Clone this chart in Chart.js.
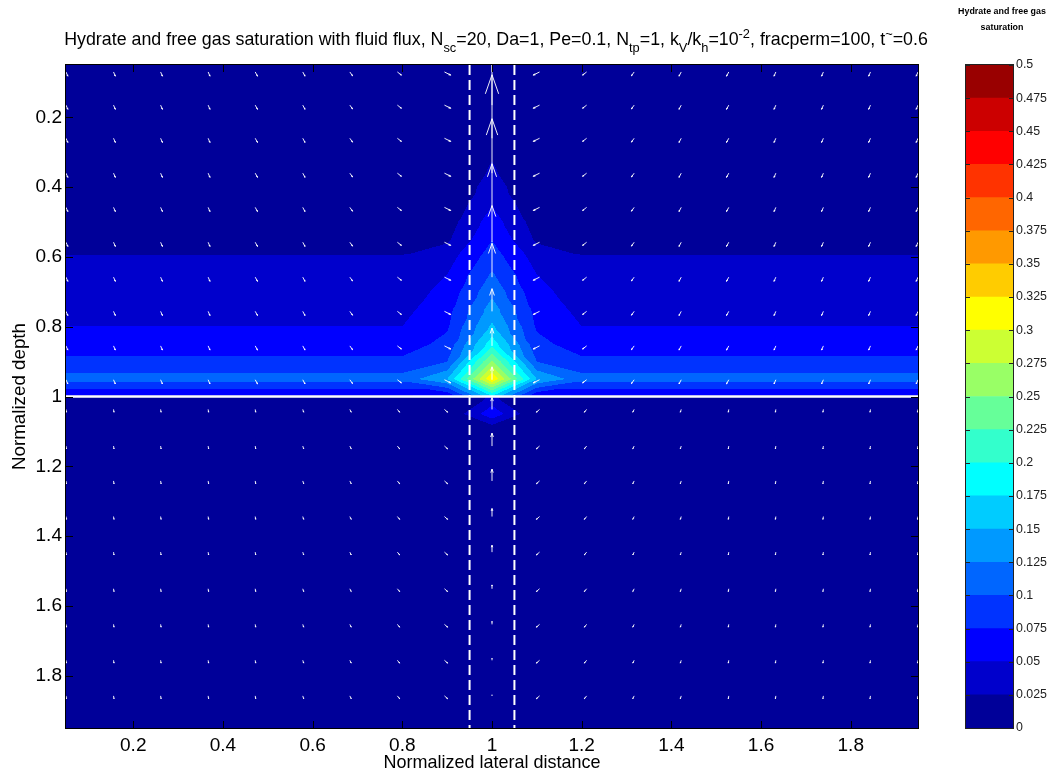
<!DOCTYPE html>
<html><head><meta charset="utf-8">
<script src="https://cdn.jsdelivr.net/npm/chart.js@4.4.1/dist/chart.umd.min.js"></script>
<style>
html,body{margin:0;padding:0;background:#fff;}
#wrap{position:relative;width:1059px;height:778px;overflow:hidden;background:#fff;}
#main{position:absolute;left:0;top:0;}
#cbar{position:absolute;left:956px;top:0;}
</style></head><body>
<div id="wrap"><canvas id="main" width="1059" height="778"></canvas><canvas id="cbar" width="103" height="778"></canvas></div>
<script>
// ------------------------- DATA -------------------------
const axisX = [0.05, 1.95];           // lateral axis limits
const axisY = [0.05, 1.95];           // depth axis limits
const xTickValues = [0.2, 0.4, 0.6, 0.8, 1.0, 1.2, 1.4, 1.6, 1.8];
const xTickLabels = ['0.2', '0.4', '0.6', '0.8', '1', '1.2', '1.4', '1.6', '1.8'];
const yTickValues = [0.2, 0.4, 0.6, 0.8, 1.0, 1.2, 1.4, 1.6, 1.8];
const yTickLabels = ['0.2', '0.4', '0.6', '0.8', '1', '1.2', '1.4', '1.6', '1.8'];
const cbLevels = [0, 0.025, 0.05, 0.075, 0.1, 0.125, 0.15, 0.175, 0.2, 0.225, 0.25, 0.275, 0.3, 0.325, 0.35, 0.375, 0.4, 0.425, 0.45, 0.475, 0.5];
const cbTickLabels = ['0', '0.025', '0.05', '0.075', '0.1', '0.125', '0.15', '0.175', '0.2', '0.225', '0.25', '0.275', '0.3', '0.325', '0.35', '0.375', '0.4', '0.425', '0.45', '0.475', '0.5'];
const fractureEdges = [0.95, 1.05];
const fractureCenter = 1.0;
const bsrDepth = 1.0;

// saturation field: grid nodes
const xNodes = [0.05, 0.8, 0.9, 1.0, 1.1, 1.2, 1.95];
const yNodes = [0.05, 0.3, 0.35, 0.4, 0.45, 0.5, 0.55, 0.6, 0.65, 0.7, 0.75, 0.8, 0.85, 0.9, 0.95, 1.0, 1.0001, 1.05, 1.1, 1.95];
// saturation profiles along depth (one value per y node)
const satFarField = [0, 0.002, 0.004, 0.006, 0.009, 0.012, 0.018, 0.026, 0.031, 0.037, 0.043, 0.0502, 0.064, 0.080, 0.111, 0.045, 0, 0, 0, 0];
const satNearFracture = [0, 0, 0, 0.001, 0.005, 0.013, 0.021, 0.039, 0.050, 0.058, 0.066, 0.072, 0.082, 0.100, 0.150, 0.050, 0, 0, 0, 0];
const satFracture = [0, 0.022, 0.028, 0.037, 0.049, 0.062, 0.074, 0.088, 0.103, 0.118, 0.137, 0.155, 0.190, 0.255, 0.324, 0.170, 0.030, 0.068, 0, 0];

// fluid flux (quiver)
const quiverX = [0.05, 0.156, 0.261, 0.367, 0.472, 0.578, 0.683, 0.789, 0.894, 1.0, 1.106, 1.211, 1.317, 1.422, 1.528, 1.633, 1.739, 1.844, 1.95];
const quiverY = [0.07, 0.165, 0.26, 0.36, 0.458, 0.558, 0.658, 0.756, 0.855, 0.952, 1.037, 1.142, 1.242, 1.344, 1.446, 1.551, 1.653, 1.756, 1.858];
const fluxFracture = [0.213, 0.199, 0.182, 0.156, 0.125, 0.105, 0.097, 0.065, 0.051, 0.037, 0.034, 0.037, 0.034, 0.023, 0.020, 0.011, 0.0085, 0.0057, 0.003];
// lateral / vertical flux by column distance from the fracture (0..9)
const fluxUpperLateral = [0, 0.014, 0.009, 0.006, 0.005, 0.005, 0.004, 0.004, 0.004, 0.004];
const fluxUpperVertical = [0, 0.009, 0.009, 0.011, 0.012, 0.012, 0.012, 0.012, 0.012, 0.012];
const fluxLowerLateral = [0, 0.007, 0.005, 0.003, 0.002, 0.001, 0.001, 0.001, 0.001, 0.001];
const fluxLowerVertical = [0, 0.008, 0.008, 0.008, 0.008, 0.008, 0.008, 0.008, 0.008, 0.008];

// ------------------------- STYLE -------------------------
const jetColors = ['#000099', '#0000CC', '#0000FF', '#0033FF', '#0066FF', '#0099FF', '#00CCFF', '#00FFFF', '#33FFCC', '#66FF99', '#99FF66', '#CCFF33', '#FFFF00', '#FFCC00', '#FF9900', '#FF6600', '#FF3300', '#FF0000', '#CC0000', '#990000'];

function hasFont(name) {
  const c = document.createElement('canvas').getContext('2d');
  const t = 'Normalized lateral distance 0.123';
  c.font = '40px monospace'; const w1 = c.measureText(t).width;
  c.font = '40px "' + name + '", monospace'; const w2 = c.measureText(t).width;
  return Math.abs(w1 - w2) > 0.5;
}
const FAMILY = hasFont('Liberation Sans Narrow') ? '"Liberation Sans Narrow", "Liberation Sans", Arial, sans-serif' : '"Liberation Sans", Arial, sans-serif';
const mctx = document.createElement('canvas').getContext('2d');
function fit(text, target, weight) {
  mctx.font = (weight || 'normal') + ' 100px ' + FAMILY;
  return 100 * target / mctx.measureText(text).width;
}
const tickSize = fit('0.2', 26.5);
const cbTickSize = fit('0.475', 31);
const xTitleSize = fit('Normalized lateral distance', 217);
const yTitleSize = fit('Normalized depth', 147);
const cbTitleSize = fit('Hydrate and free gas', 88, 'bold');

Chart.defaults.font.family = FAMILY;
Chart.defaults.color = '#000';

// ------------------------- FIELD -------------------------
const columnProfiles = [satFarField, satFarField, satNearFracture, satFracture, satNearFracture, satFarField, satFarField];
const satGrid = yNodes.map((_, j) => xNodes.map((_, i) => columnProfiles[i][j]));
function locate(nodes, v) {
  let k = 0;
  while (k < nodes.length - 2 && v > nodes[k + 1]) k++;
  let t = (v - nodes[k]) / (nodes[k + 1] - nodes[k]);
  return [k, Math.min(1, Math.max(0, t))];
}
function satAt(i, u, j, v) {
  const f00 = satGrid[j][i], f10 = satGrid[j][i + 1], f01 = satGrid[j + 1][i], f11 = satGrid[j + 1][i + 1];
  if (Math.abs(f10 - f01) <= Math.abs(f00 - f11)) {
    if (u + v <= 1) return f00 + (f10 - f00) * u + (f01 - f00) * v;
    return f11 + (f01 - f11) * (1 - u) + (f10 - f11) * (1 - v);
  }
  if (u >= v) return f00 + (f10 - f00) * u + (f11 - f10) * v;
  return f00 + (f01 - f00) * v + (f11 - f01) * u;
}
const jetRGB = jetColors.map(h => [parseInt(h.slice(1, 3), 16), parseInt(h.slice(3, 5), 16), parseInt(h.slice(5, 7), 16)]);
const levelStep = cbLevels[1] - cbLevels[0];

function drawQuiver(chart) {
  const {ctx, scales: {x, y}} = chart;
  const ci = quiverX.indexOf(fractureCenter);
  ctx.strokeStyle = 'rgba(255,255,255,0.92)';
  ctx.lineWidth = 1;
  const alpha = 0.3, beta = 0.35;
  for (let r = 0; r < quiverY.length; r++) {
    for (let c = 0; c < quiverX.length; c++) {
      let u, v;
      if (c === ci) { u = 0; v = -fluxFracture[r]; }
      else {
        const d = Math.abs(c - ci);
        const upper = quiverY[r] < bsrDepth;
        const lat = upper ? fluxUpperLateral[d] : fluxLowerLateral[d];
        const vert = upper ? fluxUpperVertical[d] : fluxLowerVertical[d];
        u = (c < ci ? 1 : -1) * lat; v = vert;
      }
      const bx = x.getPixelForValue(quiverX[c]), by = y.getPixelForValue(quiverY[r]);
      const tx = x.getPixelForValue(quiverX[c] + u), ty = y.getPixelForValue(quiverY[r] + v);
      const dx = tx - bx, dy = ty - by;
      ctx.beginPath();
      ctx.moveTo(bx, by); ctx.lineTo(tx, ty);
      ctx.moveTo(tx - alpha * (dx + beta * dy), ty - alpha * (dy - beta * dx));
      ctx.lineTo(tx, ty);
      ctx.lineTo(tx - alpha * (dx - beta * dy), ty - alpha * (dy + beta * dx));
      ctx.stroke();
    }
  }
}

const contourPlugin = {
  id: 'contourf',
  beforeDatasetsDraw(chart) {
    const {ctx, chartArea: a, scales: {x, y}} = chart;
    const w = Math.round(a.right - a.left), h = Math.round(a.bottom - a.top);
    const off = document.createElement('canvas'); off.width = w; off.height = h;
    const octx = off.getContext('2d');
    const img = octx.createImageData(w, h);
    const cols = [], rows = [];
    for (let px = 0; px < w; px++) cols.push(locate(xNodes, x.getValueForPixel(a.left + px + 0.5)));
    for (let py = 0; py < h; py++) rows.push(locate(yNodes, y.getValueForPixel(a.top + py + 0.5)));
    const d = img.data;
    for (let py = 0; py < h; py++) {
      const [j, v] = rows[py];
      for (let px = 0; px < w; px++) {
        const [i, u] = cols[px];
        const s = satAt(i, u, j, v);
        let k = Math.floor(s / levelStep + 1e-9);
        k = Math.max(0, Math.min(jetRGB.length - 1, k));
        const o = (py * w + px) * 4, c = jetRGB[k];
        d[o] = c[0]; d[o + 1] = c[1]; d[o + 2] = c[2]; d[o + 3] = 255;
      }
    }
    octx.putImageData(img, 0, 0);
    ctx.drawImage(off, a.left, a.top);
    ctx.save();
    ctx.beginPath(); ctx.rect(a.left, a.top, a.right - a.left, a.bottom - a.top); ctx.clip();
    drawQuiver(chart);
    ctx.restore();
  },
  afterDraw(chart) {
    const {ctx, chartArea: a, scales: {x, y}} = chart;
    ctx.save();
    ctx.strokeStyle = '#000'; ctx.lineWidth = 1;
    ctx.strokeRect(a.left - 0.5, a.top - 0.5, a.right - a.left + 1, a.bottom - a.top + 1);
    ctx.beginPath();
    const tl = 7;
    x.ticks.forEach(t => {
      const p = Math.round(x.getPixelForValue(t.value)) + 0.5;
      ctx.moveTo(p, a.bottom); ctx.lineTo(p, a.bottom - tl);
      ctx.moveTo(p, a.top); ctx.lineTo(p, a.top + tl);
    });
    y.ticks.forEach(t => {
      const p = Math.round(y.getPixelForValue(t.value)) + 0.5;
      ctx.moveTo(a.left, p); ctx.lineTo(a.left + tl, p);
      ctx.moveTo(a.right, p); ctx.lineTo(a.right - tl, p);
    });
    ctx.stroke();
    ctx.restore();
  }
};

// title with sub/superscripts
const titleParts = [
  ['Hydrate and free gas saturation with fluid flux, N', 0], ['sc', -1], ['=20, Da=1, Pe=0.1, N', 0], ['tp', -1],
  ['=1, k', 0], ['V', -1], ['/k', 0], ['h', -1], ['=10', 0], ['-2', 1], [', fracperm=100, t', 0], ['~', 1], ['=0.6', 0]
];
const subRatio = 0.72;
const titleSize = (function () {
  mctx.font = '100px ' + FAMILY;
  let w = 0;
  titleParts.forEach(([t, k]) => { w += mctx.measureText(t).width * (k === 0 ? 1 : subRatio); });
  return 100 * 864 / w;
})();
const titlePlugin = {
  id: 'richTitle',
  afterDraw(chart) {
    const ctx = chart.ctx;
    ctx.save();
    ctx.fillStyle = '#000'; ctx.textBaseline = 'alphabetic'; ctx.textAlign = 'left';
    let total = 0;
    titleParts.forEach(([t, k]) => {
      ctx.font = (k === 0 ? titleSize : titleSize * subRatio) + 'px ' + FAMILY;
      total += ctx.measureText(t).width;
    });
    let xpos = 496 - total / 2;
    const base = 45;
    titleParts.forEach(([t, k]) => {
      ctx.font = (k === 0 ? titleSize : titleSize * subRatio) + 'px ' + FAMILY;
      const dy = k === -1 ? titleSize * 0.38 : (k === 1 ? -titleSize * 0.42 : 0);
      ctx.fillText(t, xpos, base + dy);
      xpos += ctx.measureText(t).width;
    });
    ctx.restore();
  }
};

new Chart(document.getElementById('main'), {
  type: 'scatter',
  data: {
    datasets: [
      {data: [{x: fractureEdges[0], y: axisY[0]}, {x: fractureEdges[0], y: axisY[1]}], showLine: true, borderColor: '#ffffff', borderWidth: 2, borderDash: [10, 5], pointRadius: 0},
      {data: [{x: fractureEdges[1], y: axisY[0]}, {x: fractureEdges[1], y: axisY[1]}], showLine: true, borderColor: '#ffffff', borderWidth: 2, borderDash: [10, 5], pointRadius: 0},
      {data: [{x: axisX[0], y: bsrDepth}, {x: axisX[1], y: bsrDepth}], showLine: true, borderColor: '#ffffff', borderWidth: 2.5, pointRadius: 0}
    ]
  },
  options: {
    responsive: false, animation: false, devicePixelRatio: 1,
    layout: {padding: {top: 65, right: 141, left: 0, bottom: 0}},
    plugins: {legend: {display: false}, tooltip: {enabled: false}, title: {display: false}},
    scales: {
      x: {
        type: 'linear', position: 'bottom', min: axisX[0], max: axisX[1],
        grid: {display: false, drawTicks: false}, border: {display: false},
        afterBuildTicks: s => { s.ticks = xTickValues.map(v => ({value: v})); },
        afterFit: s => { s.height = 50; },
        ticks: {callback: (v, i) => xTickLabels[i], padding: 6, font: {size: tickSize}, color: '#000', maxRotation: 0, autoSkip: false},
        title: {display: true, text: 'Normalized lateral distance', font: {size: xTitleSize}, color: '#000', padding: {top: 0, bottom: Math.max(0, 15 - xTitleSize * 0.6)}}
      },
      y: {
        type: 'linear', position: 'left', reverse: true, min: axisY[0], max: axisY[1],
        grid: {display: false, drawTicks: false}, border: {display: false},
        afterBuildTicks: s => { s.ticks = yTickValues.map(v => ({value: v})); },
        afterFit: s => { s.width = 66; },
        ticks: {callback: (v, i) => yTickLabels[i], padding: 4, font: {size: tickSize}, color: '#000', autoSkip: false},
        title: {display: true, text: 'Normalized depth', font: {size: yTitleSize}, color: '#000', padding: {top: Math.max(0, 20 - yTitleSize * 0.6), bottom: 0}}
      }
    }
  },
  plugins: [contourPlugin, titlePlugin]
});

// ------------------------- COLORBAR -------------------------
const cbPlugin = {
  id: 'cbFrame',
  afterDraw(chart) {
    const {ctx, chartArea: a, scales: {y}} = chart;
    ctx.save();
    ctx.strokeStyle = '#222'; ctx.lineWidth = 1;
    ctx.strokeRect(a.left - 0.5, a.top - 0.5, a.right - a.left + 1, a.bottom - a.top + 1);
    ctx.beginPath();
    y.ticks.forEach(t => {
      const p = Math.round(y.getPixelForValue(t.value)) + 0.5;
      ctx.moveTo(a.left, p); ctx.lineTo(a.left + 4, p);
      ctx.moveTo(a.right, p); ctx.lineTo(a.right - 4, p);
    });
    ctx.stroke();
    ctx.fillStyle = '#000';
    ctx.font = 'bold ' + cbTitleSize + 'px ' + FAMILY;
    ctx.textAlign = 'center'; ctx.textBaseline = 'middle';
    ctx.fillText('Hydrate and free gas', 46, 12);
    ctx.fillText('saturation', 46, 28);
    ctx.restore();
  }
};
new Chart(document.getElementById('cbar'), {
  type: 'bar',
  data: {
    labels: ['S'],
    datasets: jetColors.map((c, k) => ({data: [[cbLevels[k], cbLevels[k + 1]]], backgroundColor: c, borderWidth: 0, barPercentage: 1, categoryPercentage: 1, grouped: false}))
  },
  options: {
    responsive: false, animation: false, devicePixelRatio: 1,
    layout: {padding: {left: 10, top: 65, bottom: 50, right: 0}},
    plugins: {legend: {display: false}, tooltip: {enabled: false}},
    scales: {
      x: {display: false},
      y: {
        position: 'right', min: cbLevels[0], max: cbLevels[cbLevels.length - 1],
        grid: {display: false, drawTicks: false}, border: {display: false},
        afterBuildTicks: s => { s.ticks = cbLevels.map(v => ({value: v})); },
        afterFit: s => { s.width = 46; },
        ticks: {callback: (v, i) => cbTickLabels[i], padding: 3, font: {size: cbTickSize}, color: '#222', autoSkip: false}
      }
    }
  },
  plugins: [cbPlugin]
});
</script>
</body></html>
